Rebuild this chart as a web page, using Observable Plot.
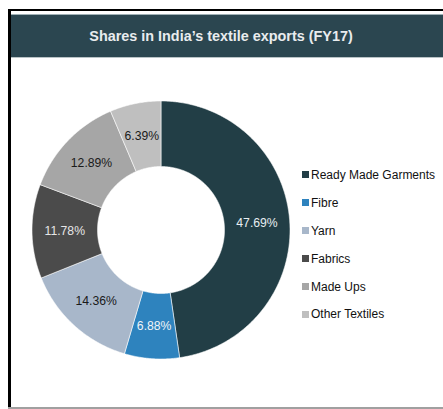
<!DOCTYPE html>
<html>
<head>
<meta charset="utf-8">
<script src="https://cdn.jsdelivr.net/npm/d3@7"></script>
<script src="https://cdn.jsdelivr.net/npm/@observablehq/plot@0.6"></script>
<style>
  html, body { margin: 0; padding: 0; background: #fff; }
  #page { position: relative; width: 443px; height: 409px; overflow: hidden; background: #fff; font-family: "Liberation Sans", Arial, sans-serif; }
  .bar { position: absolute; }
  #header { position: absolute; left: 11px; top: 15px; width: 432px; height: 42px; background: #2b4650;
            color: #e9ecee; font-weight: bold; font-size: 14.4px; line-height: 42px; text-align: center; padding-right: 12px; box-sizing: border-box; }
  #chart { position: absolute; left: 0; top: 0; }
  #legend { position: absolute; left: 302px; top: 161px; font-size: 12px; color: #111; }
  .row { height: 27.9px; display: flex; align-items: center; }
  .sw { width: 7px; height: 7px; margin-right: 2px; flex: none; }
</style>
</head>
<body>
<div id="page">
  <div class="bar" style="left:8px;top:9px;width:435px;height:2px;background:#000"></div>
  <div class="bar" style="left:8px;top:9px;width:3px;height:400px;background:#000"></div>
  <div class="bar" style="left:11px;top:14px;width:432px;height:1px;background:#9fb0b5"></div>
  <div id="header">Shares in India’s textile exports (FY17)</div>
  <div class="bar" style="left:11px;top:57px;width:432px;height:1px;background:#b9c3c6"></div>
  <div class="bar" style="left:8px;top:407px;width:435px;height:2px;background:#a0a0a0"></div>
  <div id="chart"></div>
  <div id="legend"></div>
</div>
<script>
const categories = ["Ready Made Garments", "Fibre", "Yarn", "Fabrics", "Made Ups", "Other Textiles"];
const shares = [47.69, 6.88, 14.36, 11.78, 12.89, 6.39];
const colors = ["#223e46", "#2e83be", "#a8b7ca", "#4b4b4b", "#a6a6a6", "#bfbfbf"];
const labelColors = ["#e8eef2", "#eef4f8", "#1a1a1a", "#e6e6e6", "#1a1a1a", "#1a1a1a"];

const cx = 160.5, cy = 229.5, R = 129, innerRatio = 63.5 / 129;

// build annulus-sector outlines from the share values
const pie = d3.pie().sort(null).value(d => d.share)(categories.map((c, i) => ({cat: c, share: shares[i], i})));
const outline = [];
const labels = [];
for (const s of pie) {
  const a0 = s.startAngle, a1 = s.endAngle;
  const n = Math.max(8, Math.ceil((a1 - a0) / 0.01));
  const pts = [];
  for (let k = 0; k <= n; k++) { const a = a0 + (a1 - a0) * k / n; pts.push([Math.sin(a), Math.cos(a)]); }
  for (let k = n; k >= 0; k--) { const a = a0 + (a1 - a0) * k / n; pts.push([innerRatio * Math.sin(a), innerRatio * Math.cos(a)]); }
  pts.push(pts[0]);
  for (const [x, y] of pts) outline.push({cat: s.data.cat, x, y});
  const am = (a0 + a1) / 2, rm = (1 + innerRatio) / 2;
  labels.push({cat: s.data.cat, x: rm * Math.sin(am), y: rm * Math.cos(am),
               text: s.data.share.toFixed(2) + "%", color: labelColors[s.data.i]});
}

const chart = Plot.plot({
  width: 443, height: 409,
  margin: 0,
  x: {domain: [-1, 1], range: [cx - R, cx + R], axis: null},
  y: {domain: [-1, 1], range: [cy + R, cy - R], axis: null},
  color: {domain: categories, range: colors},
  style: {background: "transparent", fontFamily: "'Liberation Sans', Arial, sans-serif"},
  marks: [
    Plot.line(outline, {x: "x", y: "y", z: "cat", fill: "cat", stroke: "#ffffff", strokeWidth: 0.7, strokeOpacity: 0.8, curve: "linear"}),
    Plot.text(labels, {x: "x", y: "y", text: "text", fill: d => d.color, fontSize: 12.2})
  ]
});
document.getElementById("chart").appendChild(chart);

const legend = document.getElementById("legend");
categories.forEach((c, i) => {
  const row = document.createElement("div");
  row.className = "row";
  const sw = document.createElement("span");
  sw.className = "sw";
  sw.style.background = colors[i];
  const t = document.createElement("span");
  t.textContent = c;
  row.appendChild(sw); row.appendChild(t);
  legend.appendChild(row);
});
</script>
</body>
</html>
